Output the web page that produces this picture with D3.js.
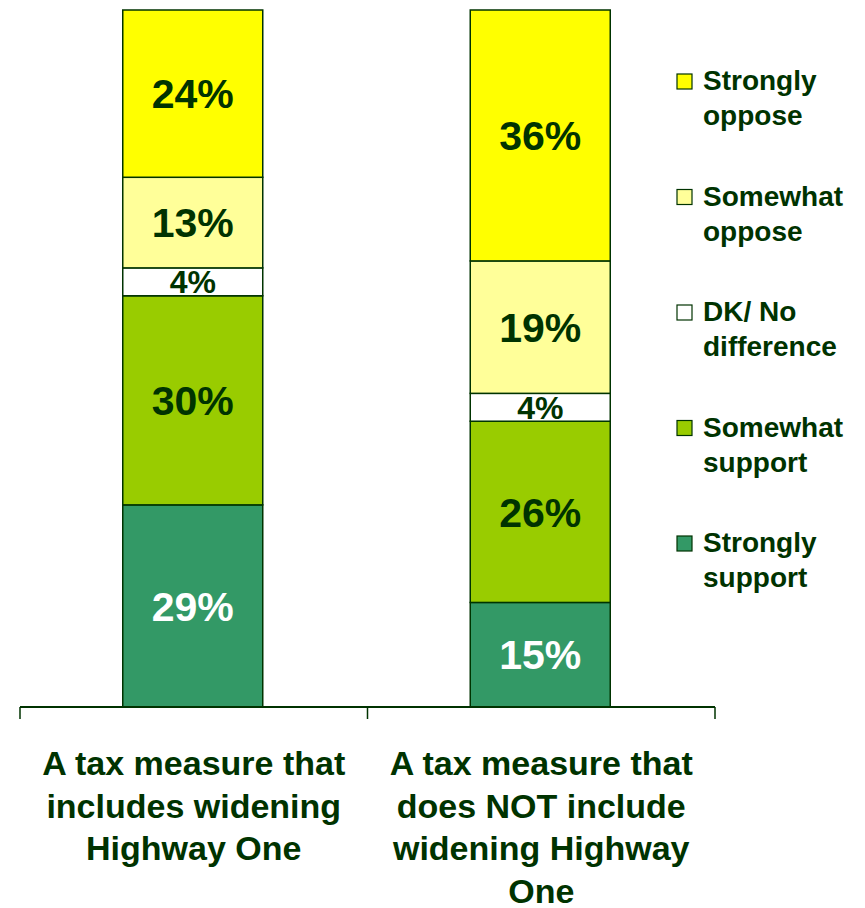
<!DOCTYPE html>
<html>
<head>
<meta charset="utf-8">
<script src="https://cdn.jsdelivr.net/npm/d3@7"></script>
<style>
  body { margin: 0; background: #fff; }
  text { font-family: "Liberation Sans", Arial, sans-serif; font-weight: bold; }
</style>
</head>
<body>
<div id="chart"></div>
<script>
// categories (x axis), each label already split in lines
const categories = ["includes", "excludes"];
const categoryLines = [
  ["A tax measure that", "includes widening", "Highway One"],
  ["A tax measure that", "does NOT include", "widening Highway", "One"]
];

// series, bottom to top of the stack
const series = ["Strongly support", "Somewhat support", "DK/ No difference", "Somewhat oppose", "Strongly oppose"];
const legendLines = [
  ["Strongly", "support"],
  ["Somewhat", "support"],
  ["DK/ No", "difference"],
  ["Somewhat", "oppose"],
  ["Strongly", "oppose"]
];
const colors = ["#339966", "#99CC00", "#FFFFFF", "#FFFF99", "#FFFF00"];
const labelColors = ["#FFFFFF", "#003300", "#003300", "#003300", "#003300"];

// percent values per category, same order as series
const valuesIncludes = [29, 30, 4, 13, 24];
const valuesExcludes = [15, 26, 4, 19, 36];
const values = [valuesIncludes, valuesExcludes];

const width = 865, height = 908;
const dark = "#003300";

const svg = d3.select("#chart").append("svg")
  .attr("width", width)
  .attr("height", height);

const x0 = d3.scaleBand().domain(categories).range([20, 715]).padding(0);
const barW = 140;
const y = d3.scaleLinear().domain([0, 100]).range([707, 10]);

const color = d3.scaleOrdinal().domain(series).range(colors);

// stack the data
const rows = categories.map((c, i) => {
  const r = { cat: c };
  series.forEach((s, j) => r[s] = values[i][j]);
  return r;
});
const stacked = d3.stack().keys(series)(rows);

const layers = svg.append("g")
  .selectAll("g")
  .data(stacked)
  .join("g")
  .attr("fill", d => color(d.key));

layers.selectAll("rect")
  .data(d => d.map(p => ({ key: d.key, p: p })))
  .join("rect")
  .attr("x", d => x0(d.p.data.cat) + (x0.bandwidth() - barW) / 2 - 1)
  .attr("y", d => y(d.p[1]))
  .attr("width", barW)
  .attr("height", d => y(d.p[0]) - y(d.p[1]))
  .attr("stroke", dark)
  .attr("stroke-width", 1.5);

// value labels
layers.selectAll("text")
  .data(d => d.map(p => ({ key: d.key, p: p })))
  .join("text")
  .attr("x", d => x0(d.p.data.cat) + x0.bandwidth() / 2 - 1)
  .attr("y", d => (y(d.p[0]) + y(d.p[1])) / 2)
  .attr("dy", "0.36em")
  .attr("text-anchor", "middle")
  .attr("font-size", d => (d.p[1] - d.p[0]) < 6 ? 32 : 41)
  .attr("fill", d => labelColors[series.indexOf(d.key)])
  .text(d => (d.p[1] - d.p[0]) + "%");

// x axis: baseline with ticks at the band edges
const axis = svg.append("g");
axis.append("line")
  .attr("x1", x0.range()[0]).attr("x2", x0.range()[1])
  .attr("y1", y(0)).attr("y2", y(0))
  .attr("stroke", dark).attr("stroke-width", 2);

const edges = categories.map(c => x0(c)).concat([x0.range()[1]]);
axis.selectAll(".tick")
  .data(edges)
  .join("line")
  .attr("class", "tick")
  .attr("x1", d => d).attr("x2", d => d)
  .attr("y1", y(0)).attr("y2", y(0) + 12)
  .attr("stroke", dark).attr("stroke-width", 1.5);

// category labels
axis.selectAll(".cat")
  .data(categories)
  .join("text")
  .attr("class", "cat")
  .attr("text-anchor", "middle")
  .attr("font-size", 34)
  .attr("fill", dark)
  .each(function (d, i) {
    const t = d3.select(this);
    categoryLines[i].forEach((line, k) => {
      t.append("tspan")
        .attr("x", x0(d) + x0.bandwidth() / 2)
        .attr("y", 775 + k * 42.5)
        .text(line);
    });
  });

// legend, top to bottom = strongly oppose ... strongly support
const legend = svg.append("g")
  .selectAll("g")
  .data(series.slice().reverse())
  .join("g")
  .attr("transform", (d, i) => `translate(677, ${74 + i * 115.5})`);

legend.append("rect")
  .attr("width", 15)
  .attr("height", 15)
  .attr("fill", d => color(d))
  .attr("stroke", dark)
  .attr("stroke-width", 1.2);

legend.append("text")
  .attr("font-size", 28)
  .attr("fill", dark)
  .each(function (d) {
    const t = d3.select(this);
    legendLines[series.indexOf(d)].forEach((line, k) => {
      t.append("tspan")
        .attr("x", 26)
        .attr("y", 16 + k * 35)
        .text(line);
    });
  });
</script>
</body>
</html>
